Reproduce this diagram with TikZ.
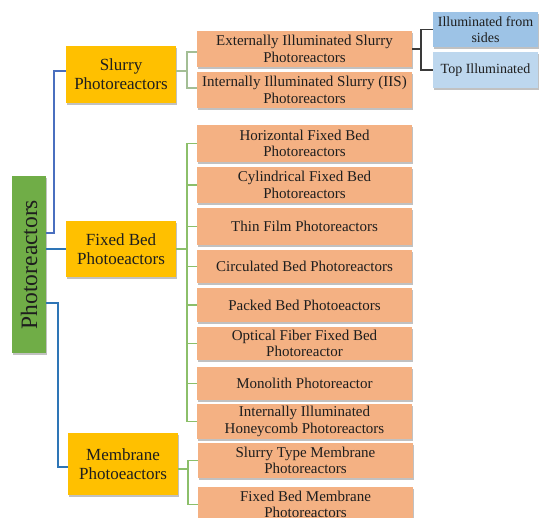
\documentclass[tikz,border=0pt]{standalone}
\usepackage{fontspec}
\setmainfont{Liberation Serif}
\usetikzlibrary{shadows}
\definecolor{rootgreen}{HTML}{70AD47}
\definecolor{gold}{HTML}{FFC000}
\definecolor{peach}{HTML}{F4B183}
\definecolor{skyA}{HTML}{9DC3E6}
\definecolor{skyB}{HTML}{BDD7EE}
\definecolor{conA}{HTML}{4A6FBF}
\definecolor{conB}{HTML}{2E75B6}
\definecolor{conG}{HTML}{8CBF6A}
\definecolor{conS}{HTML}{A3BE95}
\definecolor{conK}{HTML}{3A3A3A}
\definecolor{txt}{HTML}{1E1E1E}
\begin{document}
\begin{tikzpicture}[x=1pt,y=-1pt,
  boxbase/.style={inner sep=0pt, align=center, text=txt,
    drop shadow={shadow xshift=1.2pt, shadow yshift=-1.6pt, opacity=0.35, fill=black!70}},
  rootbox/.style={boxbase, fill=rootgreen, minimum width=34pt, minimum height=177pt,
    font=\fontsize{23.5}{26}\selectfont},
  catbox/.style={boxbase, fill=gold, minimum width=110pt, font=\fontsize{17}{19}\selectfont},
  leafbox/.style={boxbase, fill=peach, minimum width=215pt, font=\fontsize{15}{16.5}\selectfont},
  subbox/.style={boxbase, minimum width=105pt, font=\fontsize{14}{15.5}\selectfont},
  linkA/.style={draw=conA, line width=2.4pt},
  linkB/.style={draw=conB, line width=2.4pt},
  linkG/.style={draw=conG, line width=1.2pt},
  linkS/.style={draw=conS, line width=1.2pt},
  linkK/.style={draw=conK, line width=1.4pt}
]
\useasboundingbox (0,0) rectangle (540,518);
\clip (0,0) rectangle (540,518);

% root
\node[rootbox] (root) at (29,264.5) {\rotatebox{90}{Photoreactors}};

% categories
\node[catbox, minimum height=57pt] (slurry) at (121,74.5) {Slurry\\Photoreactors};
\node[catbox, minimum height=56pt] (fixed) at (121,249) {Fixed Bed\\Photoeactors};
\node[catbox, minimum height=62pt] (mem) at (123,464) {Membrane\\Photoeactors};

% slurry leaves
\node[leafbox, minimum height=36pt] (ext) at (304.5,49) {Externally Illuminated Slurry\\Photoreactors};
\node[leafbox, minimum height=36pt] (iis) at (304.5,90) {Internally Illuminated Slurry (IIS)\\Photoreactors};

% illumination sub-types
\node[subbox, fill=skyA, minimum height=35pt] (sides) at (485.5,29.5) {Illuminated from\\sides};
\node[subbox, fill=skyB, minimum height=36pt] (topill) at (485.5,70) {Top Illuminated};

% fixed bed leaves
\node[leafbox, minimum height=37pt] (hor) at (304.5,143.5) {Horizontal Fixed Bed\\Photoreactors};
\node[leafbox, minimum height=36pt] (cyl) at (304.5,185) {Cylindrical Fixed Bed\\Photoreactors};
\node[leafbox, minimum height=37pt] (thin) at (304.5,226.5) {Thin Film Photoreactors};
\node[leafbox, minimum height=33pt] (circ) at (304.5,266.5) {Circulated Bed Photoreactors};
\node[leafbox, minimum height=34pt] (pack) at (304.5,305) {Packed Bed Photoeactors};
\node[leafbox, minimum height=33pt] (opt) at (304.5,343.5) {Optical Fiber Fixed Bed\\Photoreactor};
\node[leafbox, minimum height=33pt] (mono) at (304.5,383.5) {Monolith Photoreactor};
\node[leafbox, minimum height=35pt] (honey) at (304.5,421.5) {Internally Illuminated\\Honeycomb Photoreactors};

% membrane leaves
\node[leafbox, minimum height=35pt] (stm) at (305.5,460.5) {Slurry Type Membrane\\Photoreactors};
\node[leafbox, minimum height=35pt] (fbm) at (305.5,504.5) {Fixed Bed Membrane\\Photoreactors};

% root connectors
\draw[linkA] (root.east |- 0,233) -| (54,71) -- (slurry.west |- 0,71);
\draw[linkB] (root.east |- fixed.west) -- (fixed.west);
\draw[linkB] (root.east |- 0,303) -| (58,467) -- (mem.west |- 0,467);

% slurry branch
\draw[linkS] (slurry.east |- 0,71) -- (187,71);
\draw[linkS] (ext.west |- 0,52) -| (187,88) -- (iis.west |- 0,88);

% externally illuminated branch
\draw[linkK] (ext.east) -- (421,49);
\draw[linkK] (sides.west) -| (421,70) -- (topill.west);

% fixed bed branch
\draw[linkG] (fixed.east) -- (187,249);
\draw[linkG] (hor.west) -| (187,421.5) -- (honey.west);
\foreach \n in {cyl,thin,circ,pack,opt,mono}
  \draw[linkG] (\n.west) -- (187,0 |- \n.west);

% membrane branch
\draw[linkG] (mem.east |- 0,469) -- (188,469);
\draw[linkG] (stm.west) -| (188,504.5) -- (fbm.west);
\end{tikzpicture}
\end{document}
